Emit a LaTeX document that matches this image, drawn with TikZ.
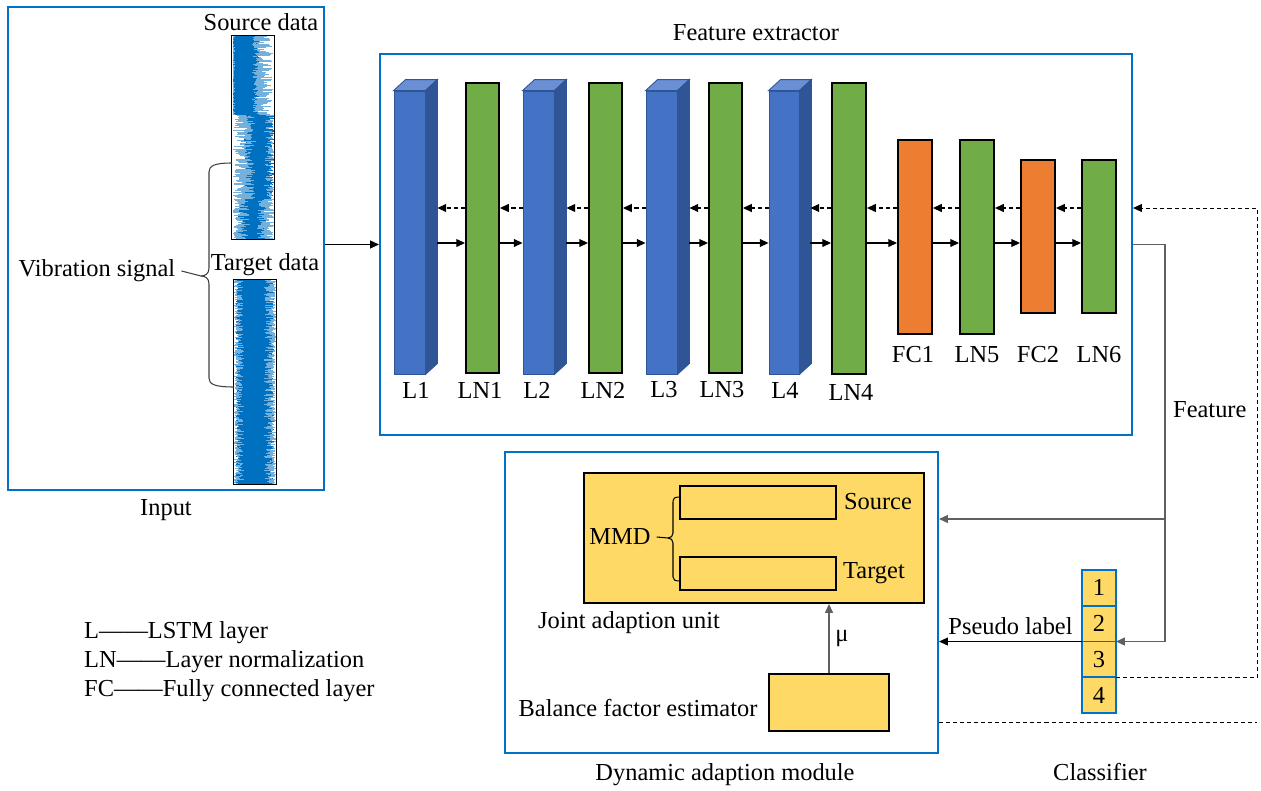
\documentclass[tikz,border=0pt]{standalone}
\usepackage{fontspec}
\setmainfont{Liberation Serif}
\usetikzlibrary{arrows.meta,positioning,fit,calc}
\definecolor{panelblue}{RGB}{0,114,198}
\definecolor{lstmblue}{RGB}{68,114,196}
\definecolor{lstmside}{RGB}{47,85,151}
\definecolor{lstmtop}{RGB}{106,143,212}
\definecolor{lngreen}{RGB}{112,173,71}
\definecolor{fcorange}{RGB}{237,125,49}
\definecolor{boxyellow}{RGB}{255,217,102}
\definecolor{sigblue}{RGB}{0,112,192}

\begin{document}
\begin{tikzpicture}[x=0.02cm, y=-0.02cm,
    font=\rmfamily\fontsize{13.9}{16}\selectfont,
    panel/.style={draw=panelblue, line width=1.2pt, inner sep=0pt},
    strip/.style={inner sep=0pt},
    lstm/.style={fill=lstmblue, draw=lstmside, line width=0.5pt, inner sep=0pt},
    lnorm/.style={fill=lngreen, draw=black, line width=1.1pt, inner sep=0pt},
    fclayer/.style={fill=fcorange, draw=black, line width=1.1pt, inner sep=0pt},
    ybox/.style={fill=boxyellow, draw=black, line width=1.1pt, inner sep=0pt},
    cell/.style={fill=boxyellow, draw=panelblue, line width=0.9pt, minimum width=0.68cm, minimum height=0.715cm, inner sep=0pt, outer sep=0pt},
    fwd/.style={-{Triangle[length=5pt,width=4.5pt]}, line width=0.6pt},
    bwd/.style={fwd, dash pattern=on 2.3pt off 1.7pt},
    dline/.style={line width=0.5pt, dash pattern=on 2.3pt off 1.7pt},
    gline/.style={draw=gray!75!black, line width=0.6pt},
    garr/.style={fwd, draw=gray!75!black},
    brace/.style={draw=black!75, line width=0.6pt},
    sig/.style={draw=sigblue, line width=0.4pt},
    sigpale/.style={draw=sigblue!55, line width=0.4pt}
  ]
    \useasboundingbox (0,0) rectangle (1261,791);

    % input
    \node[panel, fit={(8,7) (324,490)}] (inbox) {};
    \node (inlbl) at (166,510) {Input};
    \node[strip, fit={(232,36) (274,239)}] (src) {};
    \node[strip, fit={(234,280) (276,484)}] (tgt) {};
    \node (srclbl) at (261,22) {Source data};
    \node (tgtlbl) at (265,265) {Target data};
    \node (vib) at (97,271) {Vibration signal};

    \pgfmathsetseed{11}
    \begin{scope}
      \clip (src.north west) rectangle (src.south east);
      \foreach \i in {36,36.5,...,239} {
        \pgfmathsetmacro{\pl}{(\i<115) ? 233 : ((\i<200) ? 233+16*rnd : 233+10*rnd)}
        \pgfmathsetmacro{\pr}{(\i<115) ? 254+19*rnd : ((\i<200) ? 266+8*rnd : 262+12*rnd)}
        \pgfmathsetmacro{\xl}{(\i<115) ? 233+2*rnd : ((\i<200) ? 244+12*rnd : 238+12*rnd)}
        \pgfmathsetmacro{\xr}{(\i<115) ? 252+7*rnd : ((\i<200) ? 264+10*rnd : 256+10*rnd)}
        \draw[sigpale] (\pl,\i) -- (\pr,\i);
        \draw[sig] (\xl,\i) -- (\xr,\i);
      }
    \end{scope}
    \begin{scope}
      \clip (tgt.north west) rectangle (tgt.south east);
      \foreach \i in {280,280.5,...,484} {
        \pgfmathsetmacro{\pl}{234+6*rnd}
        \pgfmathsetmacro{\pr}{270+6*rnd}
        \pgfmathsetmacro{\xl}{236+8*rnd}
        \pgfmathsetmacro{\xr}{264+10*rnd}
        \draw[sigpale] (\pl,\i) -- (\pr,\i);
        \draw[sig] (\xl,\i) -- (\xr,\i);
      }
    \end{scope}
    \draw[line width=0.8pt] (src.north west) rectangle (src.south east);
    \draw[line width=0.8pt] (tgt.north west) rectangle (tgt.south east);

    \draw[brace] (vib.east) -- (201,276) .. controls (205,276) and (209,274) .. (209,268) -- (209,172)
      .. controls (209,166) and (214,163) .. (232,163);
    \draw[brace] (201,276) .. controls (205,276) and (209,278) .. (209,284) -- (209,378)
      .. controls (209,384) and (214,387) .. (234,387);

    % feature extractor
    \node[panel, fit={(380,54) (1132,435)}] (fe) {};
    \node (fetitle) at (756,33) {Feature extractor};

    \node[lstm, fit={(394,91) (425,374)}] (L1) {};
    \node[lnorm, fit={(466,83) (499,373)}] (LN1) {};
    \node[lstm, fit={(523,91) (554,374)}] (L2) {};
    \node[lnorm, fit={(589,83) (622,373)}] (LN2) {};
    \node[lstm, fit={(646,91) (677,374)}] (L3) {};
    \node[lnorm, fit={(709,83) (742,373)}] (LN3) {};
    \node[lstm, fit={(769,91) (799,374)}] (L4) {};
    \node[lnorm, fit={(832,83) (866,374)}] (LN4) {};
    \node[fclayer, fit={(898,140) (932,334)}] (FC1) {};
    \node[lnorm, fit={(960,140) (994,334)}] (LN5) {};
    \node[fclayer, fit={(1021,160) (1055,313)}] (FC2) {};
    \node[lnorm, fit={(1082,160) (1116,313)}] (LN6) {};

    \foreach \n in {L1,L2,L3,L4} {
      \filldraw[fill=lstmtop, draw=lstmside, line width=0.5pt] (\n.north west) -- ++(12,-11)
        -- ($(\n.north east)+(12,-11)$) -- (\n.north east) -- cycle;
      \filldraw[fill=lstmside, draw=lstmside, line width=0.5pt] (\n.north east) -- ++(12,-11)
        -- ($(\n.south east)+(12,-11)$) -- (\n.south east) -- cycle;
    }

    \node (l1lbl) at (416,390) {L1};
    \node (ln1lbl) at (480,390) {LN1};
    \node (l2lbl) at (537,390) {L2};
    \node (ln2lbl) at (603,390) {LN2};
    \node (l3lbl) at (664,390) {L3};
    \node (ln3lbl) at (722,390) {LN3};
    \node (l4lbl) at (785,390) {L4};
    \node (ln4lbl) at (851,392) {LN4};
    \node (fc1lbl) at (913,355) {FC1};
    \node (ln5lbl) at (977,355) {LN5};
    \node (fc2lbl) at (1038,355) {FC2};
    \node (ln6lbl) at (1099,355) {LN6};

    \coordinate (fw) at (0,243);
    \coordinate (bk) at (1257,208);
    \coordinate (dk) at (1257,722);
    \coordinate (fj) at (1165,519);

    \draw[fwd] (inbox.east |- fe.west) -- (fe.west);
    \draw[fwd] ($(L1.east |- fw)+(12,0)$) -- (LN1.west |- fw);
    \draw[fwd] (LN1.east |- fw) -- (L2.west |- fw);
    \draw[fwd] ($(L2.east |- fw)+(12,0)$) -- (LN2.west |- fw);
    \draw[fwd] (LN2.east |- fw) -- (L3.west |- fw);
    \draw[fwd] ($(L3.east |- fw)+(12,0)$) -- (LN3.west |- fw);
    \draw[fwd] (LN3.east |- fw) -- (L4.west |- fw);
    \draw[fwd] ($(L4.east |- fw)+(11,0)$) -- (LN4.west |- fw);
    \draw[fwd] (LN4.east |- fw) -- (FC1.west |- fw);
    \draw[fwd] (FC1.east |- fw) -- (LN5.west |- fw);
    \draw[fwd] (LN5.east |- fw) -- (FC2.west |- fw);
    \draw[fwd] (FC2.east |- fw) -- (LN6.west |- fw);

    \draw[bwd] (LN1.west |- bk) -- ($(L1.east |- bk)+(12,0)$);
    \draw[bwd] (L2.west |- bk) -- (LN1.east |- bk);
    \draw[bwd] (LN2.west |- bk) -- ($(L2.east |- bk)+(12,0)$);
    \draw[bwd] (L3.west |- bk) -- (LN2.east |- bk);
    \draw[bwd] (LN3.west |- bk) -- ($(L3.east |- bk)+(12,0)$);
    \draw[bwd] (L4.west |- bk) -- (LN3.east |- bk);
    \draw[bwd] (LN4.west |- bk) -- ($(L4.east |- bk)+(11,0)$);
    \draw[bwd] (FC1.west |- bk) -- (LN4.east |- bk);
    \draw[bwd] (LN5.west |- bk) -- (FC1.east |- bk);
    \draw[bwd] (FC2.west |- bk) -- (LN5.east |- bk);
    \draw[bwd] (LN6.west |- bk) -- (FC2.east |- bk);

    % dynamic adaption module
    \node[panel, fit={(505,452) (938,753)}] (dam) {};
    \node (damlbl) at (725,775) {Dynamic adaption module};
    \node[ybox, fit={(584,473) (924,603)}] (jau) {};
    \node (jaulbl) at (629,623) {Joint adaption unit};
    \node[ybox, line width=0.9pt, fit={(680,486) (836,519)}] (srcbar) {};
    \node[ybox, line width=0.9pt, fit={(680,557) (836,590)}] (tgtbar) {};
    \node (srctxt) at (878,502) {Source};
    \node (tgttxt) at (874,573) {Target};
    \node (mmd) at (620,537) {MMD};
    \draw[brace, draw=black] (mmd.east) -- (668,538) .. controls (671,538) and (673,536) .. (673,533) -- (673,502)
      .. controls (673,498) and (675,497) .. (680,497);
    \draw[brace, draw=black] (668,538) .. controls (671,538) and (673,540) .. (673,543) -- (673,577)
      .. controls (673,580) and (675,581) .. (680,581);
    \node[ybox, fit={(769,674) (889,731)}] (bfe) {};
    \node (bfelbl) at (638,708) {Balance factor estimator};
    \draw[garr] (bfe.north) -- (jau.south -| bfe.north) node[midway, right] (mulbl) {μ};

    % classifier
    \node[cell] (c1) at (1099,587.9) {1};
    \node[cell, below=0pt of c1] (c2) {2};
    \node[cell, below=0pt of c2] (c3) {3};
    \node[cell, below=0pt of c3] (c4) {4};
    \node (clslbl) at (1100,772) {Classifier};

    \draw[gline] (fe.east) -| (fj);
    \draw[garr] (fj) -- (dam.east |- fj);
    \draw[garr] (fj) |- (c2.south east);
    \node[anchor=west] (featlbl) at (1167,410) {Feature};
    \draw[fwd] (c2.south west) -- node[above] (pslbl) {Pseudo label} (dam.east |- c2.south west);

    \draw[bwd, line width=0.5pt] (c3.south east) -| (bk) -- (fe.east |- bk);
    \draw[dline] (dam.east |- dk) -- (dk);

    % legend
    \node[anchor=west] (leg1) at (78,633) {L——LSTM layer};
    \node[anchor=west] (leg2) at (78,662) {LN——Layer normalization};
    \node[anchor=west] (leg3) at (78,691) {FC——Fully connected layer};
  \end{tikzpicture}
\end{document}
